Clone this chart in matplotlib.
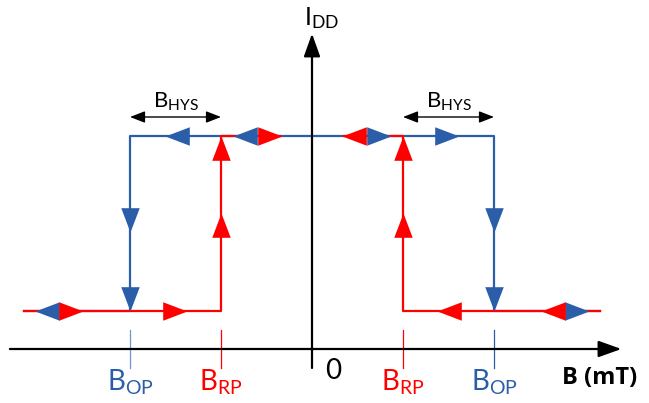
import numpy as np
import matplotlib
matplotlib.use("Agg")
import matplotlib.pyplot as plt
from matplotlib.path import Path

plt.rcParams['font.family'] = ['Lato', 'DejaVu Sans']
plt.rcParams['mathtext.fontset'] = 'custom'
plt.rcParams['mathtext.rm'] = 'Lato'

BLUE = '#2B5EA8'
RED = '#FF0000'

# switching points and output levels
B_OP = 2.0
B_RP = 1.0
B_END = 3.16
I_LOW = 1.0
I_HIGH = 5.6

# blue path (operate), red path (release)
blue_x = [-B_END, -B_OP, -B_OP, B_OP, B_OP, B_END]
blue_y = [I_LOW, I_LOW, I_HIGH, I_HIGH, I_LOW, I_LOW]
red_left_x = [-B_END, -B_RP, -B_RP, -0.35]
red_left_y = [I_LOW, I_LOW, I_HIGH, I_HIGH]
red_right_x = [0.35, B_RP, B_RP, B_END]
red_right_y = [I_HIGH, I_HIGH, I_LOW, I_LOW]

# arrow tips along the paths
blue_left_tips = [(-3.04, I_LOW), (-1.615, I_HIGH), (-0.87, I_HIGH)]
blue_right_tips = [(3.04, I_LOW), (1.615, I_HIGH), (0.87, I_HIGH)]
blue_down_tips = [(-B_OP, 3.08), (-B_OP, I_LOW), (B_OP, 3.08), (B_OP, I_LOW)]
red_right_tips = [(-2.52, I_LOW), (-1.37, I_LOW), (-0.33, I_HIGH)]
red_left_tips = [(2.52, I_LOW), (1.37, I_LOW), (0.33, I_HIGH)]
red_up_tips = [(-B_RP, 3.58), (-B_RP, I_HIGH), (B_RP, 3.58), (B_RP, I_HIGH)]

w = 0.38
tri = {
    'right': Path([(0, 0), (-1, w), (-1, -w), (0, 0)]),
    'left': Path([(0, 0), (1, w), (1, -w), (0, 0)]),
    'up': Path([(0, 0), (w, -1), (-w, -1), (0, 0)]),
    'down': Path([(0, 0), (w, 1), (-w, 1), (0, 0)]),
}

fig = plt.figure(figsize=(6.49, 4.03), dpi=100)
ax = fig.add_axes([0, 0, 1, 1])
ax.set_xlim(-312 / 91, 337 / 91)
ax.set_ylim(-54 / 38, 349 / 38)
ax.axis('off')

# axes
ax.annotate('', xy=(3.40, 0), xytext=(-3.32, 0),
            arrowprops=dict(arrowstyle='-|>,head_length=1.4,head_width=0.5',
                            color='black', lw=1.6, shrinkA=0, shrinkB=0))
ax.annotate('', xy=(0, 8.3), xytext=(0, -0.5),
            arrowprops=dict(arrowstyle='-|>,head_length=1.4,head_width=0.5',
                            color='black', lw=1.6, shrinkA=0, shrinkB=0))

ax.plot(blue_x, blue_y, color=BLUE, lw=1.6, zorder=2)
ax.plot(red_left_x, red_left_y, color=RED, lw=1.6, zorder=3)
ax.plot(red_right_x, red_right_y, color=RED, lw=1.6, zorder=3)


def arrows(tips, direction, color, z):
    xs = [t[0] for t in tips]
    ys = [t[1] for t in tips]
    ax.plot(xs, ys, ls='none', marker=tri[direction], ms=35, color=color,
            mec='none', zorder=z)


arrows(blue_left_tips, 'left', BLUE, 4)
arrows(blue_right_tips, 'right', BLUE, 4)
arrows(blue_down_tips, 'down', BLUE, 4)
arrows(red_right_tips, 'right', RED, 5)
arrows(red_left_tips, 'left', RED, 5)
arrows(red_up_tips, 'up', RED, 5)

# ticks on B axis
for xv, c in [(-B_OP, '#6F97D0'), (B_OP, BLUE), (-B_RP, RED), (B_RP, RED)]:
    ax.plot([xv, xv], [0.5, -0.5], color=c, lw=0.9, zorder=1)

lab_y = (349 - 382) / 38
ax.text(-B_OP, lab_y, r'$\mathregular{B_{OP}}$', color=BLUE, fontsize=20, ha='center', va='center')
ax.text(B_OP, lab_y, r'$\mathregular{B_{OP}}$', color=BLUE, fontsize=20, ha='center', va='center')
ax.text(-B_RP, lab_y, r'$\mathregular{B_{RP}}$', color=RED, fontsize=20, ha='center', va='center')
ax.text(B_RP, lab_y, r'$\mathregular{B_{RP}}$', color=RED, fontsize=20, ha='center', va='center')
ax.text(21 / 91, (349 - 371) / 38, '0', fontsize=20, ha='center', va='center')
ax.text(288 / 91, (349 - 378) / 38, 'B (mT)', fontsize=17, fontweight='bold',
        family=['Open Sans', 'DejaVu Sans'], ha='center', va='center')
ax.text(10 / 91, (349 - 18) / 38, r'$\mathregular{I_{DD}}$', fontsize=18, ha='center', va='center')

# hysteresis width markers
hys_y = (349 - 117) / 38
for a, b in [(-B_OP, -B_RP), (B_RP, B_OP)]:
    ax.annotate('', xy=(a, hys_y), xytext=(b, hys_y),
                arrowprops=dict(arrowstyle='<|-|>,head_length=0.9,head_width=0.35',
                                color='black', lw=1.0, shrinkA=0, shrinkB=0))
    ax.text((a + b) / 2, (349 - 102) / 38, r'$\mathregular{B_{HYS}}$', fontsize=16,
            ha='center', va='center')

fig.savefig('out.png', dpi=100)
